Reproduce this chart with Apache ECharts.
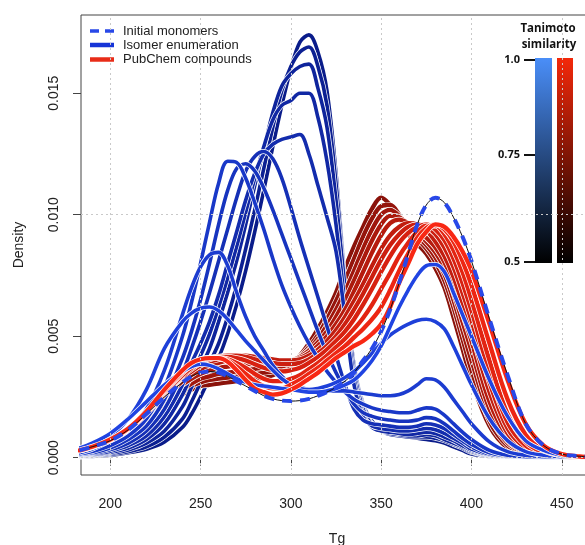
<!DOCTYPE html>
<html>
<head>
<meta charset="utf-8">
<script src="https://cdn.jsdelivr.net/npm/echarts@6/dist/echarts.min.js"></script>
<style>
  html, body { margin: 0; padding: 0; background: #ffffff; }
  #chart { width: 585px; height: 545px; }
</style>
</head>
<body>
<div id="chart"></div>
<script>
// Tg values at which every density curve is sampled
const tg = [183, 190, 200, 210, 220, 230, 240, 245, 250, 255, 260, 265, 270, 275, 280, 285, 290, 295,
            300, 305, 310, 315, 320, 325, 330, 335, 340, 345, 350, 355, 360, 365, 370, 375, 380, 385,
            390, 395, 400, 410, 420, 430, 440, 450, 460, 467];

// Densities below are written in units of 1e-4
const UNIT = 1e-4;

const monomers = [3, 4.5, 7, 11.5, 18, 25, 31, 33.5, 35, 35.5, 35, 33.5, 31.5, 29.5, 27.5, 25.5, 24.2, 23.5,
                  23.3, 23.5, 24.2, 25.5, 27, 29, 31.5, 35, 40, 45, 52, 61, 72, 84, 96, 104, 107, 105,
                  99, 91, 81, 57, 34, 14, 5, 1.5, 0.6, 0.3];

// Isomer enumeration, Tanimoto similarity 1.00 down to 0.50
const iso100 = [4, 6, 10, 16, 23, 30, 35.5, 37.5, 38.5, 38, 36.5, 34.5, 32.5, 31, 30, 29.5, 29, 28.5,
                28, 27.5, 27, 27, 27.5, 28.5, 30, 32, 35.5, 40, 46, 54, 62, 69, 75, 79, 79.5, 76.5,
                68, 59, 50, 32, 17, 7, 3, 1, 0.4, 0.2];
const iso095 = [3, 5, 9, 16, 28, 45, 56, 59.5, 61.5, 62, 60.5, 57, 52.5, 48, 44, 40, 36, 32.5,
                30, 28.5, 28, 28.5, 29.5, 31, 33, 35.5, 39, 43, 47, 50.5, 53, 55, 56.5, 57, 56, 53,
                46, 38, 30, 16, 7, 2.5, 1, 0.4, 0.2, 0.1];
const iso090 = [2, 3.5, 7, 12, 20, 36, 59, 70, 78.5, 83.5, 84.5, 79, 68, 58, 50, 44, 38, 33.5,
                30.5, 29, 28, 27.5, 27.5, 27.5, 27.5, 27, 26.5, 26, 25.5, 25.5, 26, 27.5, 30, 32.5, 32, 29,
                24, 19, 14, 6.5, 2.5, 1, 0.4, 0.2, 0.1, 0.1];
const iso085 = [1.5, 2.5, 5, 9, 16, 29, 50, 64, 80, 97, 113, 122, 121.5, 115, 105, 94, 82, 71,
                62, 54, 47, 41, 35.5, 31, 27, 24, 22, 20.5, 19.5, 19, 18.5, 18.5, 19.5, 20.5, 20, 17.5,
                14, 10.5, 7.5, 3, 1, 0.4, 0.2, 0.1, 0.1, 0.1];
const iso080 = [1.2, 2, 4, 7.5, 13, 24, 41, 52, 65, 80, 96, 110, 119, 121, 118, 111, 102, 92,
                82, 72, 62, 52, 43, 35, 28, 22, 18.5, 17, 16, 15.5, 15, 15, 15.5, 16.5, 16, 14,
                11, 8, 5.5, 2, 0.7, 0.3, 0.1, 0.1, 0.1, 0.1];
const iso075 = [1, 1.7, 3.3, 6, 11, 20, 35, 45, 56, 68, 81, 94, 107, 118, 124, 126, 123, 115,
                103, 90, 78, 66, 54, 42, 30, 20, 15.5, 14, 13.5, 13, 12.5, 12.5, 13, 14, 13.5, 12,
                9.5, 7, 4.5, 1.5, 0.5, 0.2, 0.1, 0.1, 0.1, 0.1];
const iso070 = [0.8, 1.4, 2.7, 5, 9, 17, 30, 39, 47, 56, 67, 80, 93, 106, 117, 125, 129, 131,
                132, 133, 125, 112, 99, 85, 58, 30, 17, 13, 12, 11.5, 11, 11, 11.5, 12, 11.5, 10,
                8, 6, 3.5, 1.2, 0.4, 0.2, 0.1, 0.1, 0.1, 0.1];
const iso065 = [0.6, 1.1, 2.2, 4, 7.5, 14, 26, 34, 42, 51, 62, 74, 87, 101, 115, 128, 139, 145,
                147, 150, 150, 140, 122, 96, 63, 33, 18, 12.5, 11, 10.5, 10, 9.5, 10, 10.5, 10, 8.5,
                7, 5, 3, 1, 0.3, 0.1, 0.1, 0.1, 0.1, 0.1];
const iso060 = [0.5, 0.9, 1.8, 3.2, 6, 11, 21, 29, 37, 45, 56, 68, 81, 96, 112, 127, 142, 153,
                158, 161, 162, 152, 136, 106, 70, 36, 20, 13.5, 11, 10, 9.5, 9, 9, 9.5, 9, 7.5,
                6, 4.5, 2.5, 0.8, 0.3, 0.1, 0.1, 0.1, 0.1, 0.1];
const iso055 = [0.4, 0.7, 1.4, 2.5, 4.5, 8.5, 16, 23, 31, 39, 47, 58, 71, 86, 102, 119, 136, 151,
                161, 167, 169, 161, 145, 113, 72, 38, 21, 14, 11, 9.5, 9, 8.5, 8.5, 8.5, 8, 7,
                5.5, 4, 2.2, 0.7, 0.2, 0.1, 0.1, 0.1, 0.1, 0.1];
const iso050 = [0.3, 0.5, 1, 2, 3.5, 6.5, 12.5, 18, 25, 33, 41, 51, 63, 77, 93, 110, 128, 145,
                160, 171, 174, 167, 151, 117, 73, 38, 22, 15, 11.5, 10, 9, 8.5, 8, 7.5, 7, 6,
                4.5, 3, 1.5, 0.5, 0.2, 0.1, 0.1, 0.1, 0.1, 0.1];

// PubChem compounds, Tanimoto similarity 1.00 down to 0.50
const pub100 = [3, 4.5, 7.5, 12, 19, 28, 36, 39, 40.5, 41, 41, 39.5, 36, 32, 28.5, 27, 26, 26.5,
                28, 30, 32.5, 35, 38, 41, 43.5, 46, 48, 51, 55, 62, 72, 80, 88, 93, 96, 95,
                91, 85, 77, 55, 32, 14, 5, 1.5, 0.5, 0.3];
const pub095 = [3, 4.4, 7.4, 12, 18.8, 27.5, 35.5, 38.5, 40.5, 41, 41, 40, 37.5, 34.5, 31.5, 29.5, 28.5, 28.5,
                30, 32, 34.5, 37, 40, 43, 46, 49.5, 53, 57, 62, 69, 77, 84, 90.5, 94.5, 96, 94,
                89, 81, 71, 47, 24, 9.5, 3, 1, 0.3, 0.1];
const pub090 = [3, 4.3, 7.3, 11.8, 18.5, 27, 35, 38, 40, 41, 41, 40.5, 39, 37, 34.5, 32.5, 31.5, 31.5,
                32.5, 34, 36.5, 39, 42, 45.5, 49, 53, 57.5, 63, 69.5, 76, 83, 88.5, 93, 95.5, 95.5, 92,
                85.5, 76.5, 65, 40, 18, 6.5, 2, 0.6, 0.2, 0.1];
const pub085 = [2.9, 4.2, 7.2, 11.6, 18, 26.5, 34, 37, 39.5, 41, 41.5, 41.5, 41, 40, 38.5, 37, 36, 35.5,
                36, 37, 39, 41.5, 44.5, 48, 52, 57, 63, 69.5, 76.5, 83, 88.5, 92.5, 95, 96, 94, 89.5,
                82, 72, 60.5, 35, 14.5, 5, 1.6, 0.5, 0.2, 0.1];
const pub080 = [2.8, 4.1, 7, 11.3, 17.5, 26, 33.5, 36.5, 39, 40.5, 41.5, 42, 42, 41.5, 40.5, 39.5, 39, 38.5,
                38.5, 39, 40.5, 43, 46, 50, 55, 61, 67.5, 74.5, 81.5, 87.5, 92, 95, 96, 95, 92, 86.5,
                78.5, 68, 56.5, 31, 12, 4, 1.3, 0.4, 0.1, 0.1];
const pub075 = [2.7, 4, 6.8, 11, 17, 25.5, 33, 35.5, 38, 39.5, 40.5, 41.5, 42, 42, 41.5, 41, 40.5, 40,
                40, 40.5, 42, 44.5, 48, 52.5, 58, 64.5, 71.5, 79, 86, 91.5, 95, 96.5, 96, 93.5, 89, 83,
                74.5, 63.5, 52, 27, 10, 3.3, 1.1, 0.4, 0.1, 0.1];
const pub070 = [2.6, 3.9, 6.5, 10.5, 16.5, 24.5, 31.5, 34, 36.5, 38, 39, 40, 40.5, 40.5, 40.5, 40, 39.5, 39.5,
                40, 41, 43, 46, 50, 55, 61, 68.5, 76.5, 84.5, 91.5, 96.5, 98, 96.5, 93.5, 90.5, 86.5, 80.5,
                71, 59.5, 48, 23, 8.5, 2.8, 1, 0.3, 0.1, 0.1];
const pub065 = [2.5, 3.8, 6.3, 10, 16, 23.5, 30, 32.5, 34.5, 36, 37, 37.5, 38, 38.5, 38.5, 38.5, 38.5, 39,
                40, 41.5, 44, 47.5, 52, 58, 65, 73, 81.5, 89.5, 96, 99.5, 99, 96, 92.5, 89, 84.5, 78,
                68, 56, 44, 20, 7, 2.3, 0.8, 0.3, 0.1, 0.1];
const pub060 = [2.4, 3.6, 6, 9.5, 15, 22, 28, 30.5, 32.5, 33.5, 34.5, 35, 35.5, 36, 36.5, 37, 37, 37.5,
                39, 41, 44.5, 49, 54.5, 61, 68.5, 77, 86, 94, 100, 102, 99.5, 95, 91, 87.5, 82.5, 75.5,
                65, 52.5, 40, 17.5, 6, 2, 0.7, 0.2, 0.1, 0.1];
const pub055 = [2.2, 3.3, 5.5, 9, 14, 21, 27, 29.5, 31, 32, 32.5, 33, 33.5, 34, 34.5, 35, 35.5, 36.5,
                38.5, 41.5, 45.5, 50.5, 57, 64.5, 73, 82, 91, 98.5, 103.5, 104, 100, 94, 90, 86, 80.5, 73,
                62, 49, 36, 15, 5, 1.7, 0.6, 0.2, 0.1, 0.1];
const pub050 = [2, 3, 5, 8, 13, 20, 26, 28, 29.5, 30, 30.5, 31, 31.5, 32, 32.5, 33, 34, 35.5,
                38, 42, 47, 53, 60, 68, 78, 87, 95, 102.5, 107, 104, 99, 92, 88, 84, 78, 70,
                58, 45, 32, 13, 4, 1.5, 0.5, 0.2, 0.1, 0.1];

const isomerCurves = [iso100, iso095, iso090, iso085, iso080, iso075, iso070, iso065, iso060, iso055, iso050];
const pubchemCurves = [pub100, pub095, pub090, pub085, pub080, pub075, pub070, pub065, pub060, pub055, pub050];

// Axis ticks and colour-bar labels
const tgTicks = [200, 250, 300, 350, 400, 450];
const densityTicks = [0, 0.005, 0.010, 0.015];
const similarityLabels = ['1.0', '0.75', '0.5'];
const legendLabels = ['Initial monomers', 'Isomer enumeration', 'PubChem compounds'];

const FONT = '"Liberation Sans", Arial, Helvetica, sans-serif';

function mix(a, b, t) {
  const c = a.map((v, i) => Math.round(v + (b[i] - v) * t));
  return 'rgb(' + c.join(',') + ')';
}
const BLUE_HI = [32, 68, 226], BLUE_LO = [10, 28, 138];
const RED_HI = [248, 40, 20], RED_LO = [138, 18, 10];

function toPoints(vals) {
  return tg.map((t, i) => [t, vals[i] * UNIT]);
}

function curve(name, vals, color, width, extra) {
  return Object.assign({
    type: 'line',
    name: name,
    data: toPoints(vals),
    showSymbol: false,
    smooth: 0.35,
    silent: true,
    z: 2,
    lineStyle: { color: color, width: width, cap: 'round', join: 'round' }
  }, extra || {});
}

const series = [];

// dotted reference grid at the tick positions
series.push({
  type: 'line',
  name: 'grid',
  data: toPoints(monomers),
  showSymbol: false,
  silent: true,
  z: 1,
  lineStyle: { opacity: 0 },
  markLine: {
    silent: true,
    symbol: ['none', 'none'],
    label: { show: false },
    animation: false,
    lineStyle: { type: [2, 3], color: '#c9c9c9', width: 1 },
    data: tgTicks.map(v => ({ xAxis: v })).concat(densityTicks.map(v => ({ yAxis: v })))
  }
});

// each curve sits on a slightly wider white stroke so overlapping curves stay separated
function haloed(name, vals, color, width) {
  series.push(curve(name, vals, '#ffffff', width + 1.4));
  series.push(curve(name, vals, color, width));
}

// from the least similar (0.5) to the most similar (1.0), isomers then PubChem at each level
const n = isomerCurves.length;
for (let i = n - 1; i >= 0; i--) {
  const t = i / (n - 1);
  haloed('Isomer enumeration', isomerCurves[i], mix(BLUE_HI, BLUE_LO, t), 3.6);
  haloed('PubChem compounds', pubchemCurves[i], mix(RED_HI, RED_LO, t), 4.3);
}

// initial monomers: thin black trace under a dashed blue line
series.push(curve('Initial monomers', monomers, '#111111', 1, { z: 3 }));
series.push(curve('Initial monomers', monomers, 'rgb(40,72,232)', 4, { z: 4 }));
series[series.length - 1].lineStyle.type = [10, 8];
series[series.length - 1].lineStyle.cap = 'butt';

// legend drawn at the top-left of the plot
const legendY = [31, 45, 59.5];
const legendGraphics = [
  { type: 'line', shape: { x1: 90, y1: legendY[0], x2: 115, y2: legendY[0] },
    style: { stroke: 'rgb(40,72,232)', lineWidth: 3.5, lineDash: [9, 6] } },
  { type: 'line', shape: { x1: 90, y1: legendY[1], x2: 114, y2: legendY[1] },
    style: { stroke: 'rgb(22,52,215)', lineWidth: 4.5 } },
  { type: 'line', shape: { x1: 90, y1: legendY[2], x2: 114, y2: legendY[2] },
    style: { stroke: 'rgb(232,44,24)', lineWidth: 4.5 } }
].concat(legendLabels.map((txt, i) => ({
  type: 'text', x: 123, y: legendY[i],
  style: { text: txt, font: '13px ' + FONT, fill: '#222', textVerticalAlign: 'middle', textAlign: 'left' }
})));

// Tanimoto similarity colour bars
const barTop = 58, barHeight = 205;
const tickY = [60, 155, 262];
const CB_FONT = 'bold 11px "Open Sans", "DejaVu Sans", sans-serif';
const colorbarGraphics = [
  { type: 'text', x: 548, y: 29,
    style: { text: 'Tanimoto', font: 'bold 11.5px "Open Sans", "DejaVu Sans", sans-serif', fill: '#111', textAlign: 'center', textVerticalAlign: 'middle' } },
  { type: 'text', x: 549, y: 45,
    style: { text: 'similarity', font: 'bold 11.5px "Open Sans", "DejaVu Sans", sans-serif', fill: '#111', textAlign: 'center', textVerticalAlign: 'middle' } },
  { type: 'rect', shape: { x: 535, y: barTop, width: 17, height: barHeight },
    style: { fill: new echarts.graphic.LinearGradient(0, 0, 0, 1, [
      { offset: 0, color: '#4a8ef8' }, { offset: 1, color: '#000000' }]) } },
  { type: 'rect', shape: { x: 557, y: barTop, width: 16, height: barHeight },
    style: { fill: new echarts.graphic.LinearGradient(0, 0, 0, 1, [
      { offset: 0, color: '#f3280a' }, { offset: 1, color: '#000000' }]) } }
].concat(tickY.map(y => ({
  type: 'line', shape: { x1: 524, y1: y, x2: 535, y2: y },
  style: { stroke: '#111', lineWidth: 2 }
}))).concat(similarityLabels.map((txt, i) => ({
  type: 'text', x: 520, y: tickY[i],
  style: { text: txt, font: CB_FONT, fill: '#111', textAlign: 'right', textVerticalAlign: 'middle' }
})));

const chart = echarts.init(document.getElementById('chart'), null, { renderer: 'canvas' });
chart.setOption({
  animation: false,
  backgroundColor: '#ffffff',
  grid: {
    left: 81, top: 15, width: 512, height: 460,
    show: true, borderColor: '#444', borderWidth: 1,
    containLabel: false, outerBoundsMode: 'none'
  },
  xAxis: {
    type: 'value', min: 183.8, max: 467.3,
    axisLine: { show: false },
    axisTick: { show: true, inside: false, length: 8, customValues: tgTicks, lineStyle: { color: '#444' } },
    axisLabel: { customValues: tgTicks, margin: 22, fontSize: 14, color: '#222', fontFamily: FONT },
    splitLine: { show: false },
    name: 'Tg', nameLocation: 'middle', nameGap: 57,
    nameTextStyle: { fontSize: 14, color: '#222', fontFamily: FONT }
  },
  yAxis: {
    type: 'value', min: -0.000712, max: 0.01822,
    axisLine: { show: false },
    axisTick: { show: true, inside: false, length: 8, customValues: densityTicks, lineStyle: { color: '#444' } },
    axisLabel: { customValues: densityTicks, rotate: 90, margin: 20, fontSize: 14, color: '#222', fontFamily: FONT,
                 formatter: v => v.toFixed(3) },
    splitLine: { show: false },
    name: 'Density', nameLocation: 'middle', nameGap: 55, nameRotate: 90,
    nameTextStyle: { fontSize: 14, color: '#222', fontFamily: FONT }
  },
  graphic: legendGraphics.concat(colorbarGraphics),
  series: series
});
</script>
</body>
</html>
